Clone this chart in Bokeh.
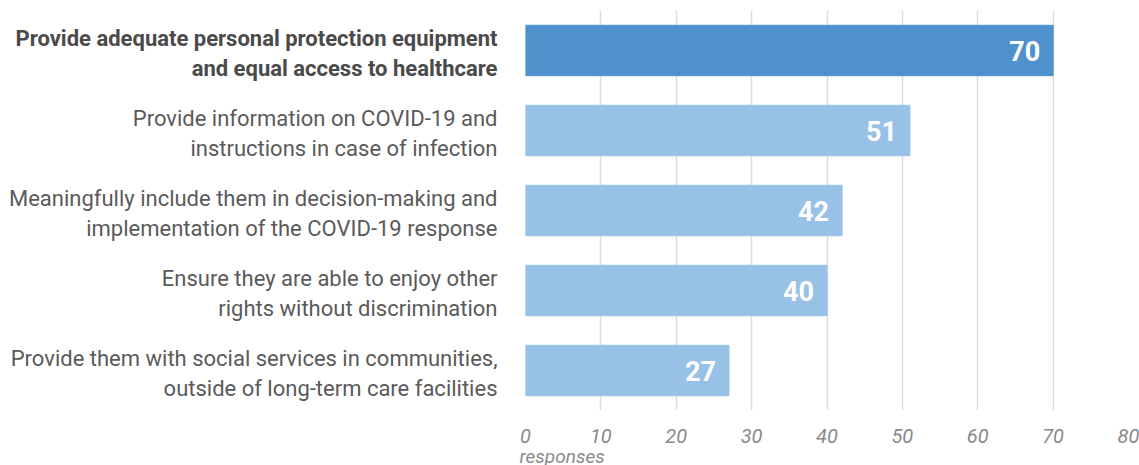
from bokeh.plotting import figure
from bokeh.layouts import row
from bokeh.models import FactorRange, Range1d, ColumnDataSource, FixedTicker, Title
from bokeh.core.properties import value
from bokeh.embed import file_html
from bokeh.resources import INLINE

categories = [
    "Provide adequate personal protection equipment\nand equal access to healthcare",
    "Provide information on COVID-19 and\ninstructions in case of infection",
    "Meaningfully include them in decision-making and\nimplementation of the COVID-19 response",
    "Ensure they are able to enjoy other\nrights without discrimination",
    "Provide them with social services in communities,\noutside of long-term care facilities",
]
values = [70, 51, 42, 40, 27]
highlight = [True, False, False, False, False]
x_ticks = [0, 10, 20, 30, 40, 50, 60, 70, 80]
x_axis_title = "responses"

DARK = "#4F91CD"
LIGHT = "#97C1E6"
FONT = "Roboto"

keys = [f"c{i}" for i in range(len(categories))]
y_range = FactorRange(*reversed(keys), range_padding=0)

TOP = 10
FRAME_H = 400
BOTTOM = 55
LEFT_W = 505

src = ColumnDataSource(dict(
    y=keys,
    v=values,
    color=[DARK if h else LIGHT for h in highlight],
    label=[str(v) for v in values],
))

# main bar chart
p = figure(
    frame_width=603, frame_height=FRAME_H,
    y_range=y_range, x_range=Range1d(0, 80),
    output_backend="svg", toolbar_location=None,
    min_border_left=20, min_border_right=11, min_border_top=TOP, min_border_bottom=BOTTOM,
)
p.outline_line_color = None

p.hbar(y="y", right="v", left=0, height=0.63, color="color", source=src)
p.text(x="v", y="y", text="label", source=src, text_align="right", text_baseline="middle",
       x_offset=-13, text_color="white", text_font_size="27px", text_font_style="bold",
       text_font=value(FONT))

p.yaxis.visible = False
p.ygrid.grid_line_color = None
p.xgrid.grid_line_color = "#dddddd"
p.xgrid.grid_line_width = 1.5
p.xaxis.ticker = FixedTicker(ticks=x_ticks)
p.xgrid.ticker = FixedTicker(ticks=x_ticks)
p.xaxis.axis_line_color = None
p.xaxis.major_tick_line_color = None
p.xaxis.minor_tick_line_color = None
p.xaxis.major_label_text_font = FONT
p.xaxis.major_label_text_font_style = "italic"
p.xaxis.major_label_text_font_size = "20px"
p.xaxis.major_label_text_color = "#8a8a8a"
p.xaxis.major_label_standoff = 12

title = Title(text=x_axis_title, align="left", offset=-6, standoff=0,
              text_font=FONT, text_font_style="italic", text_font_size="19px",
              text_color="#8a8a8a")
try:
    title.standoff = -6
except Exception:
    p.xaxis.major_label_standoff = 8
p.add_layout(title, "below")

# category labels panel
lsrc = ColumnDataSource(dict(
    y=keys, text=categories,
    style=["bold" if h else "normal" for h in highlight],
    color=["#4a4a4a" if h else "#5a5a5a" for h in highlight],
))
lp = figure(
    width=LEFT_W, frame_height=FRAME_H, y_range=y_range, x_range=Range1d(0, 1),
    output_backend="svg", toolbar_location=None,
    min_border_left=0, min_border_right=0, min_border_top=TOP, min_border_bottom=BOTTOM,
)
lp.outline_line_color = None
lp.axis.visible = False
lp.grid.grid_line_color = None
lp.text(x=1, y="y", text="text", source=lsrc, x_offset=-8, y_offset=3,
        text_align="right", text_baseline="middle",
        text_font=value(FONT), text_font_size="22px",
        text_font_style="style", text_color="color", text_line_height=1.18)

layout = row(lp, p, spacing=0)
open("out.html", "w").write(file_html(layout, INLINE))
